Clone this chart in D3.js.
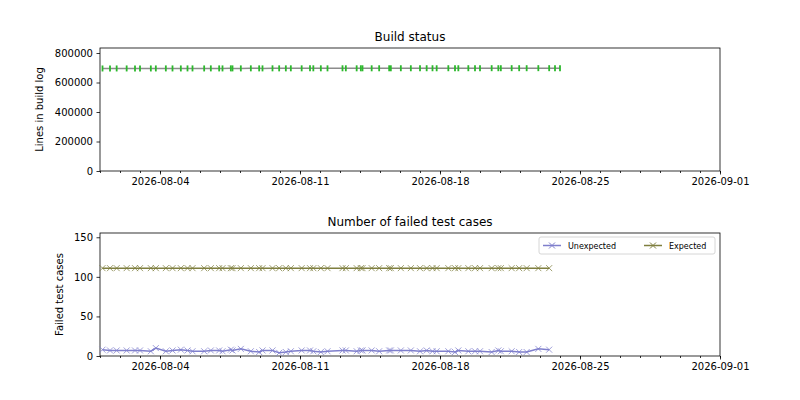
<!DOCTYPE html>
<html><head><meta charset="utf-8">
<script src="https://cdn.jsdelivr.net/npm/d3@7"></script>
<style>body{margin:0;background:#fff}svg{font-family:"DejaVu Sans",sans-serif}</style>
</head><body><svg id="c" width="800" height="400"></svg>
<script>
const buildTimes = ["2026-08-01T03:00","2026-08-01T12:00","2026-08-01T20:00","2026-08-02T08:00","2026-08-02T18:00","2026-08-03T00:00","2026-08-03T13:00","2026-08-03T19:00","2026-08-04T07:00","2026-08-04T15:00","2026-08-05T01:00","2026-08-05T09:00","2026-08-05T15:00","2026-08-06T05:00","2026-08-06T13:00","2026-08-06T23:00","2026-08-07T03:00","2026-08-07T13:00","2026-08-07T15:00","2026-08-08T01:00","2026-08-08T13:00","2026-08-08T23:00","2026-08-09T03:00","2026-08-09T15:00","2026-08-09T23:00","2026-08-10T07:00","2026-08-10T13:00","2026-08-11T02:00","2026-08-11T12:00","2026-08-11T16:00","2026-08-12T01:00","2026-08-12T09:00","2026-08-13T03:00","2026-08-13T07:00","2026-08-13T20:00","2026-08-14T01:00","2026-08-14T03:00","2026-08-14T14:00","2026-08-14T23:00","2026-08-15T11:00","2026-08-15T13:00","2026-08-16T01:00","2026-08-16T13:00","2026-08-17T00:00","2026-08-17T08:00","2026-08-17T15:00","2026-08-17T20:00","2026-08-18T10:00","2026-08-18T18:00","2026-08-18T22:00","2026-08-19T10:00","2026-08-19T18:00","2026-08-20T00:00","2026-08-20T14:00","2026-08-20T22:00","2026-08-21T01:00","2026-08-21T14:00","2026-08-21T23:00","2026-08-22T08:00","2026-08-22T22:00","2026-08-23T11:00","2026-08-23T18:00","2026-08-24T00:00"];
const buildLines = [695200,695100,695300,695400,695200,695500,695300,695400,695600,695500,695400,695700,695600,695500,695800,695700,695600,695900,695800,695700,696000,695900,695800,696100,696000,695900,696200,696100,696000,696300,696200,696100,696400,696300,696200,696500,696400,696300,696600,696500,696400,696700,696600,696500,696800,696700,696600,696900,696800,696700,697000,696900,696800,697100,697000,696900,697200,697100,697000,697300,697200,697100,697300];
const testTimes = buildTimes.slice(0, 61);
const unexpected = [8,7,7,7,7,7,6,10,6,7,8,7,6,6,7,7,6,8,7,9,6,5,7,7,4,5,6,7,7,6,5,6,7,7,6,7,7,7,6,7,7,7,7,6,7,6,6,6,5,7,6,6,6,5,7,6,6,5,5,9,8];
const expected = new Array(61).fill(111);
const xTicks = ["2026-08-04","2026-08-11","2026-08-18","2026-08-25","2026-09-01"];
const topYTicks = [0,200000,400000,600000,800000];
const botYTicks = [0,50,100,150];
const xDomain = ["2026-08-01","2026-09-01"];

const parse = d3.timeParse("%Y-%m-%dT%H:%M");
const parseDay = d3.timeParse("%Y-%m-%d");
const fmt = d3.timeFormat("%Y-%m-%d");
const svg = d3.select("#c");
const L = 100, R = 720;
const x = d3.scaleTime().domain(xDomain.map(parseDay)).range([L, R]);

function panel(top, bottom, ymax, yTicks, title, ylabel, ylabelX) {
  const y = d3.scaleLinear().domain([0, ymax]).range([bottom, top]);
  const g = svg.append("g");
  g.append("g").attr("transform", `translate(0,${bottom})`)
    .call(d3.axisBottom(x).ticks(d3.timeDay.every(1)).tickSize(2).tickFormat(""))
    .call(a => a.select(".domain").remove());
  g.append("g").attr("transform", `translate(0,${bottom})`)
    .call(d3.axisBottom(x).tickValues(xTicks.map(parseDay)).tickSize(3.5).tickPadding(3.5).tickFormat(fmt))
    .call(a => a.select(".domain").remove())
    .attr("font-family", null).attr("font-size", 10)
    .selectAll("text").attr("fill", "#000");
  g.append("g").attr("transform", `translate(${L},0)`)
    .call(d3.axisLeft(y).tickValues(yTicks).tickSize(3.5).tickPadding(3.5).tickFormat(d3.format("d")))
    .call(a => a.select(".domain").remove())
    .attr("font-family", null).attr("font-size", 10)
    .selectAll("text").attr("fill", "#000");
  g.selectAll(".tick line").attr("stroke", "#000").attr("stroke-width", 0.8);
  g.append("rect").attr("x", L).attr("y", top).attr("width", R - L).attr("height", bottom - top)
    .attr("fill", "none").attr("stroke", "#000").attr("stroke-width", 0.8);
  svg.append("text").attr("x", (L + R) / 2).attr("y", top - 7).attr("text-anchor", "middle")
    .attr("font-size", 12).text(title);
  svg.append("text").attr("transform", `translate(${ylabelX},${(top + bottom) / 2}) rotate(-90)`)
    .attr("text-anchor", "middle").attr("font-size", 10).text(ylabel);
  return y;
}

// Top panel
const y1 = panel(48, 171, 834000, topYTicks, "Build status", "Lines in build log", 43);
const bd = buildTimes.map((t, i) => ({ t: parse(t), v: buildLines[i] }));
svg.append("path").datum(bd).attr("fill", "none").attr("stroke", "#8c8c8c").attr("stroke-width", 1.5)
  .attr("d", d3.line().x(d => x(d.t)).y(d => y1(d.v)));
svg.append("g").selectAll("line").data(bd).join("line")
  .attr("x1", d => x(d.t)).attr("x2", d => x(d.t))
  .attr("y1", d => y1(d.v) - 3).attr("y2", d => y1(d.v) + 3)
  .attr("stroke", "#2cb82c").attr("stroke-width", 1.8);

// Bottom panel
const y2 = panel(233, 356, 155.4, botYTicks, "Number of failed test cases", "Failed test cases", 63);
const series = [
  { name: "Unexpected", vals: unexpected, color: "#7f7fcc" },
  { name: "Expected", vals: expected, color: "#7f7f3f" }
];
function xMark(sel, color) {
  sel.append("path").attr("d", "M-3,-3L3,3M-3,3L3,-3").attr("stroke", color).attr("stroke-width", 1).attr("fill", "none");
}
series.forEach(s => {
  const d = testTimes.map((t, i) => ({ t: parse(t), v: s.vals[i] }));
  svg.append("path").datum(d).attr("fill", "none").attr("stroke", s.color).attr("stroke-width", 1.5)
    .attr("d", d3.line().x(p => x(p.t)).y(p => y2(p.v)));
  svg.append("g").selectAll("g").data(d).join("g")
    .attr("transform", p => `translate(${x(p.t)},${y2(p.v)})`).attr("opacity", 0.75)
    .each(function () { xMark(d3.select(this), s.color); });
});
const lg = svg.append("g").attr("transform", "translate(539,237)");
lg.append("rect").attr("width", 176).attr("height", 17).attr("rx", 2)
  .attr("fill", "#fff").attr("fill-opacity", 0.8).attr("stroke", "#ccc").attr("stroke-width", 0.8);
series.forEach((s, i) => {
  const gx = 4 + i * 101;
  const it = lg.append("g").attr("transform", `translate(${gx},8.5)`);
  it.append("line").attr("x1", 0).attr("x2", 18).attr("stroke", s.color).attr("stroke-width", 1.5);
  const m = it.append("g").attr("transform", "translate(9,0)");
  xMark(m, s.color);
  it.append("text").attr("x", 25).attr("y", 3).attr("font-size", 8).text(s.name);
});
</script></body></html>
